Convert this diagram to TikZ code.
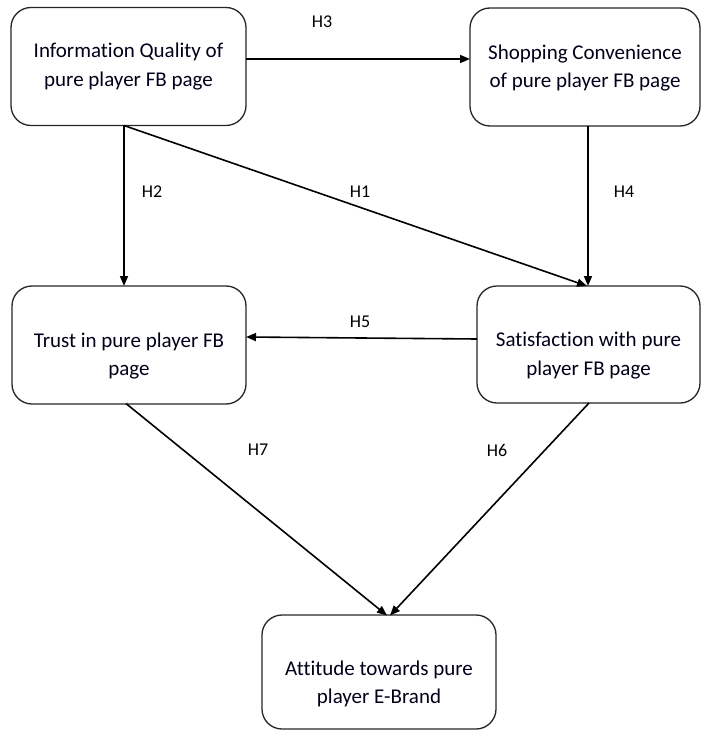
\documentclass[tikz,border=0pt]{standalone}
\usepackage{fontspec}
\setmainfont{Carlito}[Ligatures=NoCommon]
\usetikzlibrary{arrows.meta}
\begin{document}
\begin{tikzpicture}[x=1pt,y=-1pt,
  box/.style={draw=black!85,line width=1.3pt,rounded corners=20pt,inner sep=0pt},
  txt/.style={align=center,font=\fontsize{21}{28.5}\selectfont,text=black!90!blue},
  hlab/.style={font=\fontsize{18}{20}\selectfont,text=black},
  conn/.style={draw=black,line width=1.6pt,-{Triangle[length=10pt,width=8pt]}}]
\useasboundingbox (0,0) rectangle (701,730);
% boxes
\node[box,minimum width=235pt,minimum height=118pt] (iq) at (128.5,66.5) {};
\node[box,minimum width=230pt,minimum height=118pt] (sc) at (585,67) {};
\node[box,minimum width=234pt,minimum height=118pt] (tr) at (129,345) {};
\node[box,minimum width=223pt,minimum height=117pt] (sa) at (588.5,344.5) {};
\node[box,minimum width=234pt,minimum height=114pt] (at) at (379,672) {};
% texts
\node[txt] (iqt) at (iq.center) {Information Quality of\\pure player FB page};
\node[txt] (sct) at ([yshift=-1pt]sc.center) {Shopping Convenience\\of pure player FB page};
\node[txt] (trt) at ([yshift=-11pt]tr.center) {Trust in pure player FB\\page};
\node[txt] (sat) at ([yshift=-11pt]sa.center) {Satisfaction with pure\\player FB page};
\node[txt] (att) at ([yshift=-12pt]at.center) {Attitude towards pure\\player E-Brand};
% anchor coordinates
\coordinate (iqr) at (246,59);
\coordinate (scl) at (470,59);
\coordinate (iqb) at (124,125.5);
\coordinate (trtop) at (124,286);
\coordinate (satop1) at (587,286);
\coordinate (satop2) at (588,286);
\coordinate (scb) at (588,126);
\coordinate (sal) at (477,339);
\coordinate (trr) at (246,337);
\coordinate (trb) at (126,403.5);
\coordinate (sab) at (589,403);
\coordinate (att1) at (387,615.5);
\coordinate (att2) at (390,615.5);
% connectors
\draw[conn] (iqr) -- (scl);
\draw[conn] (iqb) -- (trtop);
\draw[conn] (iqb) -- (satop1);
\draw[conn] (scb) -- (satop2);
\draw[conn] (sal) -- (trr);
\draw[conn] (trb) -- (att1);
\draw[conn] (sab) -- (att2);
% labels
\node[hlab] (h3) at (322,22) {H3};
\node[hlab] (h2) at (152,192) {H2};
\node[hlab] (h1) at (360,192) {H1};
\node[hlab] (h4) at (624,192) {H4};
\node[hlab] (h5) at (360,322) {H5};
\node[hlab] (h7) at (258,450) {H7};
\node[hlab] (h6) at (497,450) {H6};
\end{tikzpicture}
\end{document}
